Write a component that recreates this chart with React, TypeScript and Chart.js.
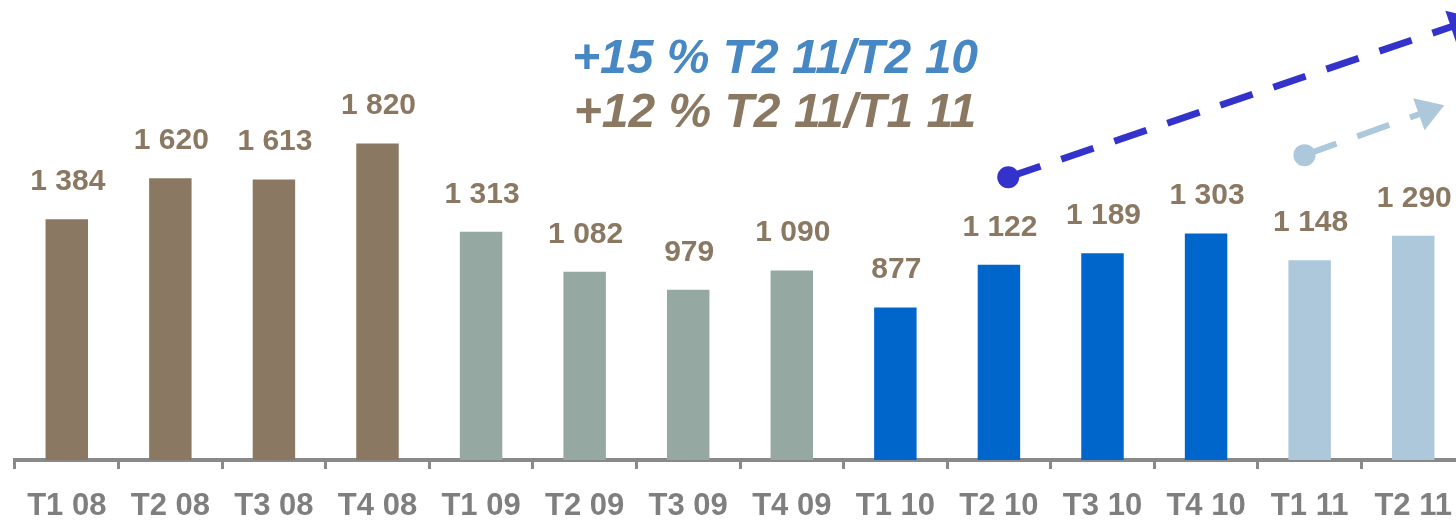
import React, { useEffect, useRef } from "react";
import { Chart, registerables } from "chart.js";

Chart.register(...registerables);

const categories = [
  "T1 08", "T2 08", "T3 08", "T4 08",
  "T1 09", "T2 09", "T3 09", "T4 09",
  "T1 10", "T2 10", "T3 10", "T4 10",
  "T1 11", "T2 11",
];
const values = [1384, 1620, 1613, 1820, 1313, 1082, 979, 1090, 877, 1122, 1189, 1303, 1148, 1290];
const valueLabels = ["1 384", "1 620", "1 613", "1 820", "1 313", "1 082", "979", "1 090", "877", "1 122", "1 189", "1 303", "1 148", "1 290"];
const barColors = [
  "#8B7862", "#8B7862", "#8B7862", "#8B7862",
  "#95A8A1", "#95A8A1", "#95A8A1", "#95A8A1",
  "#0066CC", "#0066CC", "#0066CC", "#0066CC",
  "#ADC8DB", "#ADC8DB",
];

const headlineTexts = ["+15 % T2 11/T2 10", "+12 % T2 11/T1 11"];
const headlineColors = ["#4787C4", "#8B7862"];

// trend arrows: [start index, start value, end index, end value]
const trendStartIdx = [9.09, 11.95];
const trendStartVal = [1626, 1753];
const trendEndIdx = [13.61, 13.3];
const trendEndVal = [2540, 2040];
const trendColors = ["#3333CC", "#ADC8DB"];
const trendWidths = [7, 6];

const FONT = '"Liberation Sans", Arial, sans-serif';

const annotPlugin = {
  id: "annot",
  afterDraw(chart: any) {
    const ctx = chart.ctx;
    const xs = chart.scales.x;
    const ys = chart.scales.y;
    const meta = chart.getDatasetMeta(0);
    ctx.save();
    // value labels
    ctx.font = `bold 30px ${FONT}`;
    ctx.fillStyle = "#8B7862";
    ctx.textAlign = "center";
    ctx.textBaseline = "alphabetic";
    meta.data.forEach((bar: any, i: number) => {
      ctx.fillText(valueLabels[i], bar.x + 1, bar.y - 29);
    });
    // headlines
    ctx.font = `italic bold 48px ${FONT}`;
    headlineTexts.forEach((t, i) => {
      ctx.fillStyle = headlineColors[i];
      ctx.fillText(t, 775, 73 + i * 54);
    });
    // trend arrows
    for (let k = 0; k < trendStartIdx.length; k++) {
      const x0 = xs.getPixelForValue(trendStartIdx[k]);
      const y0 = ys.getPixelForValue(trendStartVal[k]);
      const x1 = xs.getPixelForValue(trendEndIdx[k]);
      const y1 = ys.getPixelForValue(trendEndVal[k]);
      const dx = x1 - x0, dy = y1 - y0;
      const len = Math.hypot(dx, dy);
      const ux = dx / len, uy = dy / len;
      const headLen = 27, headHalf = 17;
      const bx = x1 - ux * headLen, by = y1 - uy * headLen;
      ctx.strokeStyle = trendColors[k];
      ctx.fillStyle = trendColors[k];
      ctx.lineWidth = trendWidths[k];
      ctx.setLineDash([34, 22]);
      ctx.beginPath();
      ctx.moveTo(x0, y0);
      ctx.lineTo(bx + ux * 2, by + uy * 2);
      ctx.stroke();
      ctx.setLineDash([]);
      ctx.beginPath();
      ctx.arc(x0, y0, 11, 0, Math.PI * 2);
      ctx.fill();
      ctx.beginPath();
      ctx.moveTo(x1, y1);
      ctx.lineTo(bx - uy * headHalf, by + ux * headHalf);
      ctx.lineTo(bx + uy * headHalf, by - ux * headHalf);
      ctx.closePath();
      ctx.fill();
    }
    ctx.restore();
  },
};

export default function App() {
  const ref = useRef<HTMLCanvasElement | null>(null);
  useEffect(() => {
    if (!ref.current) return;
    const chart = new Chart(ref.current, {
      type: "bar",
      data: {
        labels: categories,
        datasets: [
          {
            data: values,
            backgroundColor: barColors,
            borderWidth: 0,
            categoryPercentage: 1,
            barPercentage: 0.41,
          },
        ],
      },
      options: {
        animation: false,
        responsive: false,
        devicePixelRatio: 1,
        layout: { padding: { left: 15, right: 15, top: 0, bottom: 0 } },
        plugins: { legend: { display: false }, tooltip: { enabled: false } },
        scales: {
          x: {
            z: 1,
            offset: true,
            grid: {
              offset: true,
              drawOnChartArea: false,
              drawTicks: true,
              tickLength: 9,
              color: "#898989",
              lineWidth: 3,
            },
            border: { display: true, color: "#898989", width: 4 },
            ticks: {
              color: "#7F7F7F",
              font: { family: FONT, size: 31, weight: "bold" },
              padding: 19,
              maxRotation: 0,
              autoSkip: false,
            },
            afterFit: (scale: any) => {
              scale.height = 63;
            },
          },
          y: { display: false, min: 0, max: 2645 },
        },
      },
      plugins: [annotPlugin],
    });
    return () => chart.destroy();
  }, []);
  return (
    <div style={{ position: "absolute", left: 0, top: 0, width: 1456, height: 523, overflow: "hidden", background: "#fff" }}>
      <canvas ref={ref} width={1480} height={523} style={{ display: "block", width: 1480, height: 523 }} />
    </div>
  );
}
